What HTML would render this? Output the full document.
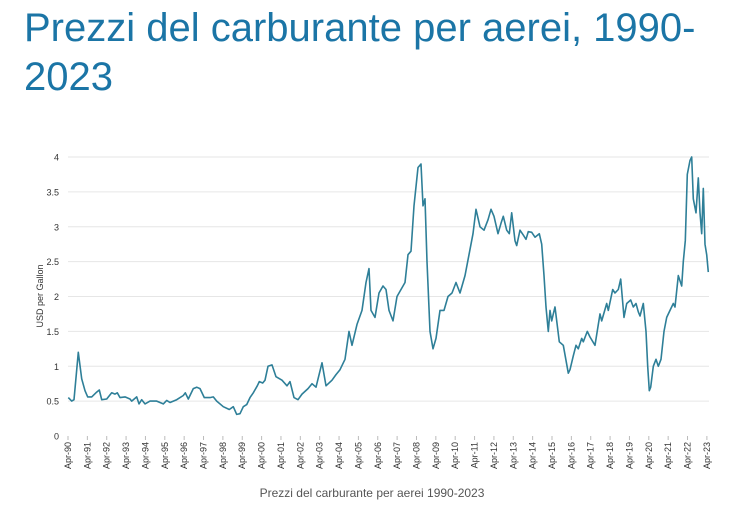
<!DOCTYPE html>
<html><head><meta charset="utf-8"><style>
body{margin:0;background:#fff;width:742px;height:517px;overflow:hidden;font-family:"Liberation Sans",Arial,sans-serif}
h1{position:absolute;left:24px;top:4px;margin:0;font-weight:normal;font-size:40px;line-height:49px;color:#1b75a6;width:700px}
</style></head><body>
<h1>Prezzi del carburante per aerei, 1990-<br>2023</h1>
<svg id="s" width="742" height="517" style="position:absolute;left:0;top:0"></svg>
<script>
var NS="http://www.w3.org/2000/svg",s=document.getElementById('s');
function el(t,a,txt){var e=document.createElementNS(NS,t);for(var k in a)e.setAttribute(k,a[k]);if(txt!=null)e.textContent=txt;s.appendChild(e);return e;}
function Y(v){return 436-v*69.75;}
for(var i=0;i<=8;i++){var v=i*0.5,y=Y(v);
 if(i>0)el('line',{x1:68,x2:709,y1:y,y2:y,stroke:'#e6e6e6','stroke-width':1});
 el('text',{x:59,y:y+3.5,'text-anchor':'end','font-size':9,fill:'#333'},String(v));}
el('text',{transform:'translate(43,296) rotate(-90)','text-anchor':'middle','font-size':9,fill:'#333'},'USD per Gallon');
var yrs=['90','91','92','93','94','95','96','97','98','99','00','01','02','03','04','05','06','07','08','09','10','11','12','13','14','15','16','17','18','19','20','21','22','23'];
for(var i=0;i<yrs.length;i++){var x=68+i*19.36;
 el('line',{x1:x,x2:x,y1:436,y2:440,stroke:'#bbb'});
 el('text',{transform:'translate('+(x+3)+',442) rotate(-90)','text-anchor':'end','font-size':9,fill:'#333'},'Apr-'+yrs[i]);}
el('text',{x:372,y:497,'text-anchor':'middle','font-size':12,fill:'#555'},'Prezzi del carburante per aerei 1990-2023');
var z1=[[145,.55],[155,.5],[162,.52],[175,1.2],[185,.82],[195,.65],[203,.56],[215,.56],[230,.63],[238,.66],[245,.52],[260,.53],[275,.62],[285,.6],[292,.62],[300,.55],[315,.56],[330,.53],[335,.5],[350,.56],[357,.46],[365,.52],[375,.46],[390,.5],[410,.5],[430,.46],[440,.51],[450,.48],[470,.52],[490,.58],[496,.62],[505,.53],[520,.68],[530,.7],[540,.68],[553,.55],[570,.55],[580,.56],[590,.5],[610,.42],[628,.38],[640,.42],[650,.31],[660,.32],[670,.42],[680,.45],[690,.55],[700,.62],[712,.72],[718,.78],[728,.76],[735,.8]];
var pts=z1.map(function(p){return [p[0]/3+20,p[1]];});
var m=[[268,1],[272,1.02],[276,.85],[282,.8],[287,.72],[290,.78],[294,.55],[298,.52],[302,.6],[308,.68],[312,.75],[316,.7],[322,1.05],[326,.72],[332,.8],[336,.88],[340,.95],[345,1.1],[349,1.5],[352,1.3],[357,1.6],[362,1.8],[366,2.2],[369,2.4],[371,1.8],[375,1.7],[379,2.05],[383,2.15],[386,2.1],[389,1.8],[393,1.65],[397,2],[401,2.1],[405,2.2],[408,2.6],[411,2.65],[414,3.3],[418,3.85],[421,3.9],[423,3.3],[425,3.4],[427,2.5],[430,1.5],[433,1.25],[436,1.4],[440,1.8],[444,1.8],[448,2],[452,2.05],[456,2.2],[460,2.05],[465,2.3],[469,2.6],[473,2.9],[476,3.25],[480,3],[484,2.95],[488,3.1],[491,3.25],[494,3.15],[498,2.9]];
pts=pts.concat(m);
var z2=[[3,3.05],[10,3.15],[20,2.95],[28,2.9],[35,3.2],[45,2.8],[50,2.73],[60,2.95],[70,2.88],[78,2.82],[85,2.93],[95,2.92],[105,2.85],[118,2.9],[125,2.75],[132,2.3],[138,1.85],[145,1.5],[150,1.8],[155,1.65],[160,1.75],[165,1.85],[178,1.35],[190,1.3],[205,.9],[210,.95],[220,1.15],[228,1.3],[235,1.25],[245,1.4],[250,1.35],[262,1.5],[270,1.42],[285,1.3],[300,1.75],[305,1.65],[320,1.9],[325,1.8],[338,2.1],[345,2.05],[355,2.1],[362,2.25],[372,1.7],[380,1.9],[392,1.95],[400,1.85],[408,1.9],[415,1.78],[420,1.72],[430,1.9],[438,1.5],[443,1],[448,.65],[452,.7],[460,1],[468,1.1],[475,1],[483,1.1],[492,1.5],[500,1.7],[510,1.8],[520,1.9],[525,1.85],[535,2.3],[545,2.15],[550,2.5],[556,2.8],[562,3.75],[570,3.95],[575,4],[580,3.4],[588,3.2],[595,3.7],[600,3.2],[605,2.9],[610,3.55],[615,2.75],[620,2.6],[625,2.35]];
pts=pts.concat(z2.map(function(p){return [p[0]/3+500,p[1]];}));
var d=pts.map(function(p,i){return (i?'L':'M')+p[0].toFixed(1)+','+Y(p[1]).toFixed(1);}).join('');
el('path',{d:d,fill:'none',stroke:'#2e7f98','stroke-width':1.6,'stroke-linejoin':'round'});
</script>
</body></html>
